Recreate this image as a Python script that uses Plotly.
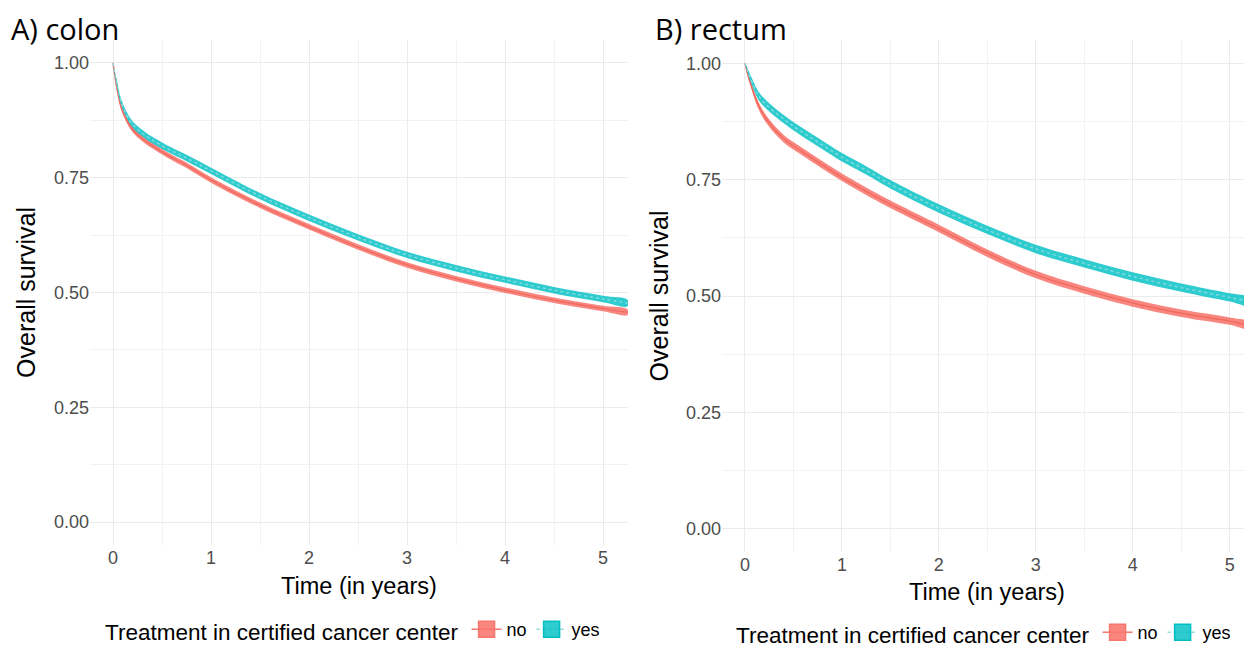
import plotly.graph_objects as go

# ---------------- data ----------------
colon_t = [0, 0.02, 0.04, 0.07, 0.12, 0.2, 0.3, 0.4, 0.55, 0.75, 1, 1.5, 2, 2.5, 3, 3.5, 4, 4.5, 5, 5.25]
colon_yes = [1.000, 0.975, 0.955, 0.924, 0.895, 0.866, 0.847, 0.832, 0.814, 0.793, 0.765, 0.710, 0.663, 0.620, 0.582, 0.553, 0.528, 0.505, 0.486, 0.477]
colon_yes_lo = [1.000, 0.971, 0.948, 0.917, 0.888, 0.859, 0.840, 0.825, 0.807, 0.786, 0.758, 0.703, 0.656, 0.613, 0.575, 0.546, 0.521, 0.498, 0.479, 0.470]
colon_yes_hi = [1.000, 0.979, 0.962, 0.931, 0.902, 0.873, 0.854, 0.839, 0.821, 0.800, 0.772, 0.717, 0.670, 0.627, 0.589, 0.560, 0.535, 0.512, 0.493, 0.484]
colon_no = [1.000, 0.970, 0.945, 0.913, 0.884, 0.855, 0.835, 0.820, 0.800, 0.777, 0.745, 0.690, 0.643, 0.599, 0.560, 0.530, 0.505, 0.483, 0.465, 0.457]
colon_no_lo = [1.000, 0.966, 0.939, 0.907, 0.878, 0.849, 0.829, 0.814, 0.794, 0.771, 0.739, 0.684, 0.637, 0.593, 0.554, 0.524, 0.499, 0.477, 0.459, 0.451]
colon_no_hi = [1.000, 0.974, 0.951, 0.919, 0.890, 0.861, 0.841, 0.826, 0.806, 0.783, 0.751, 0.696, 0.649, 0.605, 0.566, 0.536, 0.511, 0.489, 0.471, 0.463]

rectum_t = [0, 0.03, 0.06, 0.14, 0.23, 0.4, 0.57, 0.78, 1, 1.25, 1.5, 2, 2.5, 3, 3.5, 4, 4.5, 5, 5.25]
rectum_yes = [1.000, 0.982, 0.966, 0.930, 0.909, 0.880, 0.855, 0.827, 0.798, 0.770, 0.740, 0.688, 0.642, 0.601, 0.570, 0.542, 0.518, 0.497, 0.486]
rectum_yes_lo = [1.000, 0.977, 0.959, 0.921, 0.900, 0.871, 0.846, 0.818, 0.789, 0.761, 0.731, 0.679, 0.633, 0.592, 0.561, 0.533, 0.509, 0.488, 0.477]
rectum_yes_hi = [1.000, 0.987, 0.973, 0.939, 0.918, 0.889, 0.864, 0.836, 0.807, 0.779, 0.749, 0.697, 0.651, 0.610, 0.579, 0.551, 0.527, 0.506, 0.495]
rectum_no = [1.000, 0.975, 0.955, 0.909, 0.877, 0.838, 0.813, 0.784, 0.755, 0.725, 0.697, 0.645, 0.592, 0.546, 0.513, 0.485, 0.463, 0.446, 0.434]
rectum_no_lo = [1.000, 0.970, 0.949, 0.901, 0.869, 0.830, 0.805, 0.776, 0.747, 0.717, 0.689, 0.637, 0.584, 0.538, 0.505, 0.477, 0.455, 0.438, 0.426]
rectum_no_hi = [1.000, 0.980, 0.961, 0.917, 0.885, 0.846, 0.821, 0.792, 0.763, 0.733, 0.705, 0.653, 0.600, 0.554, 0.521, 0.493, 0.471, 0.454, 0.442]

group_names = ["no", "yes"]
x_ticks = [0, 1, 2, 3, 4, 5]
y_ticks = [0, 0.25, 0.5, 0.75, 1.0]
y_ticklabels = ["0.00", "0.25", "0.50", "0.75", "1.00"]
panel_titles = ["A) colon", "B) rectum"]
legend_title = "Treatment in certified cancer center"
x_title = "Time (in years)"
y_title = "Overall survival"

# ---------------- style ----------------
RED = "#F8766D"
TEAL = "#00BFC4"
RED_FILL = "rgba(248,118,109,0.88)"
TEAL_FILL = "rgba(0,191,196,0.82)"
FONT = "Liberation Sans"

fig = go.Figure()


def add_group(t, s, lo, hi, name, fill, color, dash, xa, ya, leg, lcolor):
    # confidence ribbon
    fig.add_trace(go.Scatter(
        x=list(t) + list(t)[::-1], y=list(hi) + list(lo)[::-1],
        fill="toself", fillcolor=fill, mode="lines",
        line=dict(width=0, color=color, shape="spline", smoothing=1),
        name=name, showlegend=False, xaxis=xa, yaxis=ya, hoverinfo="skip"))
    # survival curve
    fig.add_trace(go.Scatter(
        x=t, y=s, mode="lines",
        line=dict(color=lcolor, width=1.4, dash=dash, shape="spline", smoothing=1),
        name=name, showlegend=False, xaxis=xa, yaxis=ya))
    # legend key (box with line, like ggplot)
    fig.add_trace(go.Scatter(
        x=[None], y=[None], mode="markers+lines", name=name, legend=leg, xaxis=xa, yaxis=ya,
        marker=dict(symbol="square", size=16, color=fill, line=dict(color=color, width=1.5)),
        line=dict(color=lcolor, width=1.4, dash=dash)))


add_group(colon_t, colon_no, colon_no_lo, colon_no_hi, group_names[0], RED_FILL, RED, "solid", "x", "y", "legend", "#F26B61")
add_group(colon_t, colon_yes, colon_yes_lo, colon_yes_hi, group_names[1], TEAL_FILL, TEAL, "dot", "x", "y", "legend", "#86DCDE")
add_group(rectum_t, rectum_no, rectum_no_lo, rectum_no_hi, group_names[0], RED_FILL, RED, "solid", "x2", "y2", "legend2", "#F26B61")
add_group(rectum_t, rectum_yes, rectum_yes_lo, rectum_yes_hi, group_names[1], TEAL_FILL, TEAL, "dot", "x2", "y2", "legend2", "#86DCDE")

# page has an 8px body margin: lay out in a 1244x642 figure offset by 8px
OFF = 8
W, H = 1252 - OFF, 650 - OFF


def px(x):
    return (x - OFF) / W


def py(y):
    return 1 - (y - OFF) / H


def xaxis_cfg(domain, rng, anchor, standoff):
    return dict(
        domain=domain, range=rng, anchor=anchor, automargin=False,
        tickvals=x_ticks, showline=False, zeroline=False, ticks="",
        showgrid=True, gridcolor="#EBEBEB", gridwidth=1,
        minor=dict(dtick=0.5, tick0=0, showgrid=True, gridcolor="#F2F2F2", gridwidth=1),
        tickfont=dict(family=FONT, size=18, color="#4D4D4D"),
        title=dict(text=x_title, font=dict(family=FONT, size=23.5, color="#000000"), standoff=standoff),
    )


def yaxis_cfg(domain, anchor, standoff):
    return dict(
        domain=domain, anchor=anchor, automargin=False, range=[-0.05, 1.05],
        tickvals=y_ticks, ticktext=y_ticklabels, showline=False, zeroline=False, ticks="",
        showgrid=True, gridcolor="#EBEBEB", gridwidth=1,
        minor=dict(dtick=0.125, tick0=0, showgrid=True, gridcolor="#F2F2F2", gridwidth=1),
        tickfont=dict(family=FONT, size=18, color="#4D4D4D"),
        title=dict(text=y_title, font=dict(family=FONT, size=25, color="#000000"), standoff=standoff),
    )


def legend_cfg(x, y):
    return dict(
        orientation="h", x=x, xanchor="left", y=y, yanchor="middle",
        title=dict(text=legend_title, side="left", font=dict(family=FONT, size=22.5, color="#000000")),
        font=dict(family=FONT, size=18, color="#000000"), itemwidth=30, bgcolor="rgba(0,0,0,0)",
    )


fig.update_layout(
    width=W, height=H,
    margin=dict(l=0, r=0, t=0, b=0, autoexpand=False),
    paper_bgcolor="white", plot_bgcolor="white",
    xaxis=xaxis_cfg([px(90), px(628)], [-0.235, 5.255], "y", 10),
    yaxis=yaxis_cfg([py(545), py(40)], "x", 11),
    xaxis2=xaxis_cfg([px(722), 1.0], [-0.237, 5.23], "y2", 9),
    yaxis2=yaxis_cfg([py(552), py(40)], "x2", 10),
    legend=legend_cfg(px(103), py(631)),
    legend2=legend_cfg(px(734), py(634)),
    showlegend=True,
    annotations=[
        dict(text=panel_titles[0], xref="paper", yref="paper", x=px(9), y=py(28),
             xanchor="left", yanchor="middle", showarrow=False,
             font=dict(family="Open Sans", size=29, color="#000000")),
        dict(text=panel_titles[1], xref="paper", yref="paper", x=px(653), y=py(28),
             xanchor="left", yanchor="middle", showarrow=False,
             font=dict(family="Open Sans", size=29, color="#000000")),
    ],
)

fig.write_html("out.html")
